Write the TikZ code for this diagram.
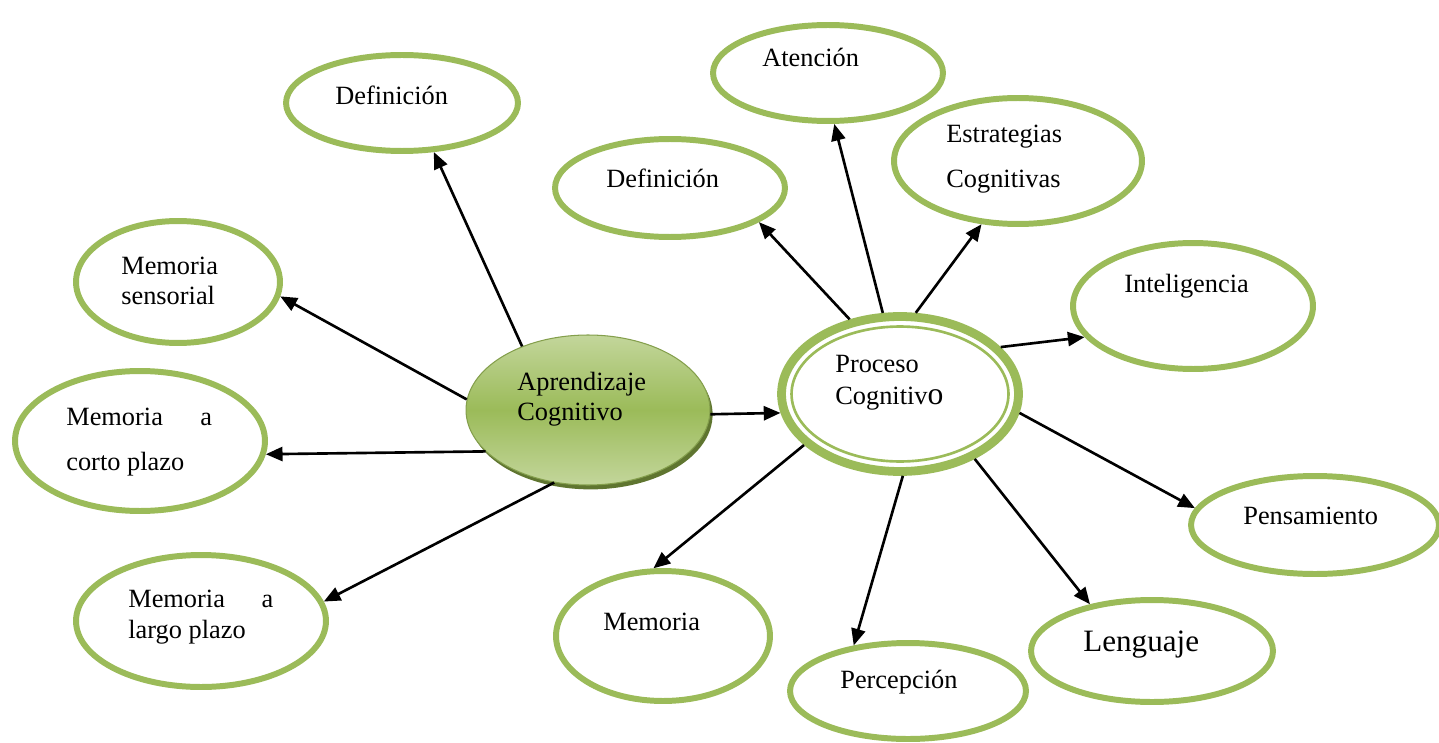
\documentclass[tikz,border=0pt]{standalone}
\usepackage{fontspec}
\setmainfont{Liberation Serif}
\usetikzlibrary{shapes.geometric,arrows.meta,shadows}
\definecolor{olivegreen}{HTML}{9BBB59}
\definecolor{lightolive}{HTML}{C3D69B}
\definecolor{darkolive}{HTML}{5F7530}

\begin{document}
\begin{tikzpicture}[x=0.02cm,y=-0.02cm,
  bubble/.style={ellipse, draw=olivegreen, line width=3.4pt, inner sep=0pt},
  link/.style={-{Triangle[length=9.5pt,width=8pt]}, line width=1.5pt},
  txt/.style={anchor=west, font=\fontsize{15}{17}\selectfont, align=left, inner sep=0pt}]
\useasboundingbox (0,0) rectangle (1439,743);

\node[bubble, minimum width=4.64cm, minimum height=1.92cm] (defA) at (402,103) {};
\node[bubble, minimum width=4.08cm, minimum height=2.44cm] (memS) at (178,282) {};
\node[bubble, minimum width=5.0cm, minimum height=2.8cm] (memC) at (140,441) {};
\node[bubble, minimum width=5.0cm, minimum height=2.64cm] (memL) at (201,621) {};
\node[ellipse, draw=olivegreen!85!black, line width=0.6pt, top color=lightolive, bottom color=lightolive, middle color=olivegreen, drop shadow={shadow xshift=1.5pt, shadow yshift=-2.5pt, fill=darkolive, opacity=1}, minimum width=4.88cm, minimum height=3.0cm] (apr) at (588,410) {};
\node[bubble, minimum width=4.6cm, minimum height=1.96cm] (defB) at (670,188) {};
\node[bubble, minimum width=4.6cm, minimum height=1.92cm] (aten) at (828,73) {};
\node[bubble, minimum width=4.96cm, minimum height=2.52cm] (estr) at (1018,161) {};
\node[bubble, minimum width=4.8cm, minimum height=2.52cm] (intel) at (1193,306) {};
\node[bubble, line width=5pt, minimum width=4.74cm, minimum height=3.1cm] (proc) at (900,394) {};
\draw[olivegreen, line width=1.5pt] (proc.center) ellipse [x radius=2.17cm, y radius=1.35cm];
\node[bubble, minimum width=4.96cm, minimum height=1.96cm] (pens) at (1315,525) {};
\node[bubble, minimum width=4.84cm, minimum height=2.04cm] (leng) at (1152,651) {};
\node[bubble, minimum width=4.72cm, minimum height=1.92cm] (perc) at (908,691) {};
\node[bubble, minimum width=4.28cm, minimum height=2.6cm] (memB) at (663,636) {};

\node[txt] (defA_text) at (335,95) {Definición};
\node[txt] (memS_text) at (121,281) {Memoria\\sensorial};
\node[txt] (memC_text) at (66,442) {\hbox to 83pt{Memoria\hfill a}\\[9pt]corto plazo};
\node[txt] (memL_text) at (128,617) {\hbox to 82.5pt{Memoria\hfill a}\\[1pt]largo plazo};
\node[txt] (apr_text) at (517,399) {Aprendizaje\\Cognitivo};
\node[txt] (defB_text) at (606,178) {Definición};
\node[txt] (aten_text) at (762,57) {Atención};
\node[txt] (estr_text) at (946,159) {Estrategias\\[9pt]Cognitivas};
\node[txt] (intel_text) at (1124,286) {Inteligencia};
\node[txt] (proc_text) at (835,383) {Proceso\\[1pt]Cognitiv{\fontsize{18}{18}\selectfont o}};
\node[txt] (pens_text) at (1243,516) {Pensamiento};
\node[txt, font=\fontsize{17.7}{20}\selectfont] (leng_text) at (1083,645) {Lenguaje};
\node[txt] (perc_text) at (840,682) {Percepción};
\node[txt] (memB_text) at (603,622) {Memoria};

\draw[link] (apr.136) -- (defA.303);
\draw[link] (apr.175) -- (memS.-8.5);
\draw[link] (apr.202.5) -- (memC.-6.8);
\draw[link] (apr.245) -- (memL.9.2);
\draw[link] (apr.-2) -- (proc.189);
\draw[link] (proc.124.8) -- (defB.-21.2);
\draw[link] (proc.102.8) -- (aten.-83);
\draw[link] (proc.79.9) -- (estr.240.2);
\draw[link] (proc.25.4) -- (intel.196);
\draw[link] (proc.-9.7) -- (pens.172);
\draw[link] (proc.-41.1) -- (leng.143.6);
\draw[link] (proc.-88.4) -- (perc.140.4);
\draw[link] (proc.208.9) -- (memB.98.8);
\end{tikzpicture}
\end{document}
